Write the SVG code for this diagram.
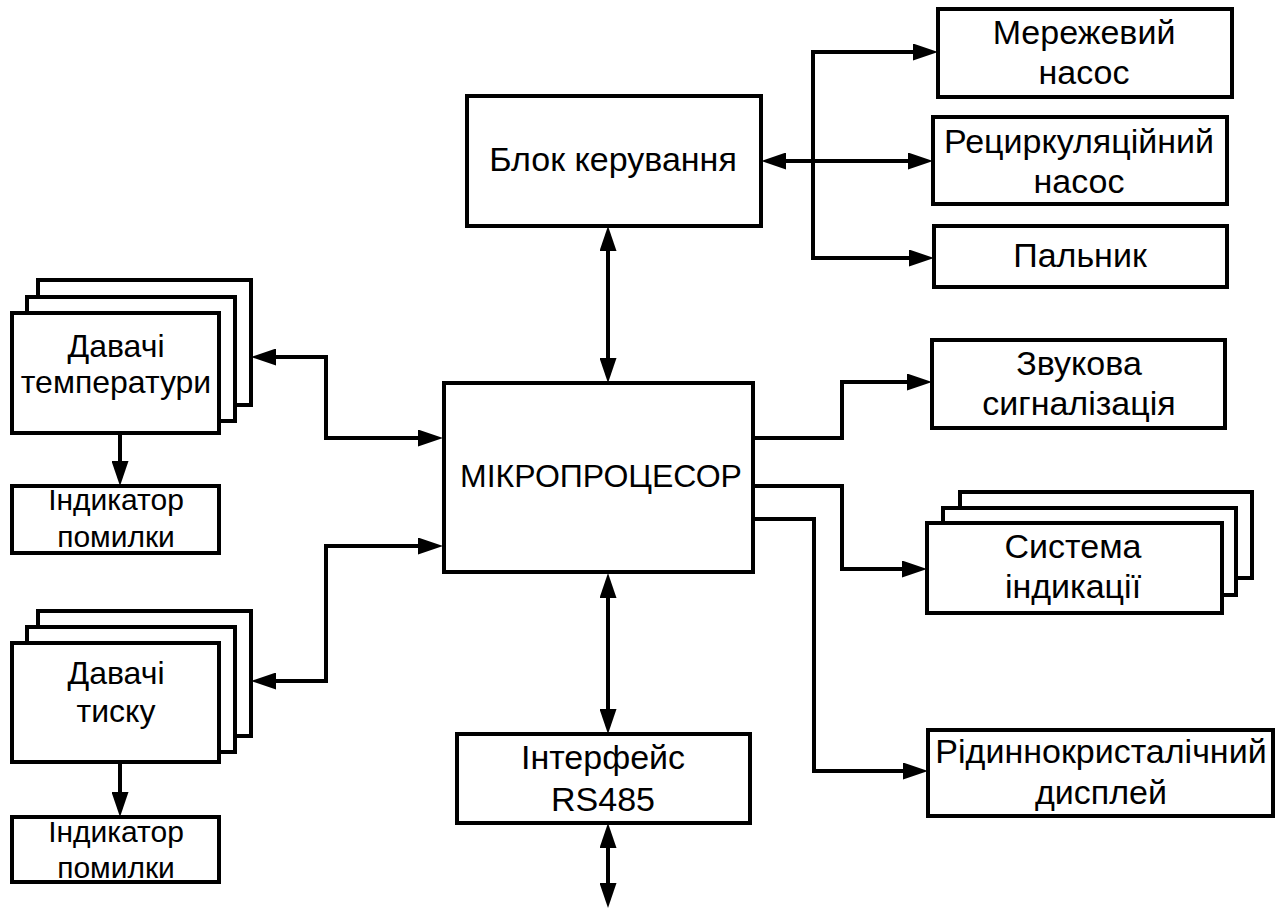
<svg xmlns="http://www.w3.org/2000/svg" width="1285" height="910" viewBox="0 0 1285 910">
<style>
.box{fill:#fff;stroke:#000;stroke-width:4}
.t{font-family:"Liberation Sans",Arial,sans-serif;font-size:32px;fill:#000;text-anchor:middle}
.b{font-size:34px}
.s{font-size:30px}
.c{fill:none;stroke:#000;stroke-width:4}
</style>
<defs>
<marker id="ah" markerUnits="userSpaceOnUse" markerWidth="25" markerHeight="17" refX="19" refY="8.5" orient="auto-start-reverse">
<path d="M0,0 L25,8.5 L0,17 z" fill="#000"/>
</marker>
</defs>
<rect width="1285" height="910" fill="#fff"/>

<g id="connectors">
<path class="c" d="M608,232 V377" marker-start="url(#ah)" marker-end="url(#ah)"/>
<path class="c" d="M767,161 H927" marker-start="url(#ah)" marker-end="url(#ah)"/>
<path class="c" d="M932,52 H813 V258 H928" marker-start="url(#ah)" marker-end="url(#ah)"/>
<path class="c" d="M257,357 H326 V438 H437" marker-start="url(#ah)" marker-end="url(#ah)"/>
<path class="c" d="M437,546 H326 V681 H257" marker-start="url(#ah)" marker-end="url(#ah)"/>
<path class="c" d="M120,433 V480" marker-end="url(#ah)"/>
<path class="c" d="M120,762 V811" marker-end="url(#ah)"/>
<path class="c" d="M753,438 H842 V382 H926" marker-end="url(#ah)"/>
<path class="c" d="M753,486 H842 V569 H921" marker-end="url(#ah)"/>
<path class="c" d="M753,519 H814 V771 H922" marker-end="url(#ah)"/>
<path class="c" d="M608,579 V728" marker-start="url(#ah)" marker-end="url(#ah)"/>
<path class="c" d="M608,829 V902" marker-start="url(#ah)" marker-end="url(#ah)"/>
</g>

<g id="blok">
<rect class="box" x="467" y="96" width="294" height="130"/>
<text class="t b" x="613" y="171">Блок керування</text>
</g>

<g id="merezhevyi">
<rect class="box" x="938" y="9" width="294" height="88"/>
<text class="t b" x="1084" y="44">Мережевий</text>
<text class="t b" x="1084" y="84">насос</text>
</g>

<g id="recyrk">
<rect class="box" x="933" y="117" width="294" height="87"/>
<text class="t b" x="1079" y="153">Рециркуляційний</text>
<text class="t b" x="1079" y="193">насос</text>
</g>

<g id="palnyk">
<rect class="box" x="934" y="226" width="293" height="61"/>
<text class="t b" x="1080" y="267">Пальник</text>
</g>

<g id="zvukova">
<rect class="box" x="932" y="340" width="293" height="88"/>
<text class="t b" x="1079" y="375">Звукова</text>
<text class="t b" x="1079" y="415">сигналізація</text>
</g>

<g id="systema">
<rect class="box" x="960" y="492" width="292" height="86"/>
<rect class="box" x="943" y="508" width="293" height="87"/>
<rect class="box" x="927" y="523" width="295" height="90"/>
<text class="t b" x="1073" y="558">Система</text>
<text class="t b" x="1073" y="598">індикації</text>
</g>

<g id="lcd">
<rect class="box" x="928" y="730" width="345" height="86"/>
<text class="t b" x="1101" y="763">Рідиннокристалічний</text>
<text class="t b" x="1101" y="804">дисплей</text>
</g>

<g id="mcu">
<rect class="box" x="444" y="383" width="309" height="189"/>
<text class="t" x="601" y="487">МІКРОПРОЦЕСОР</text>
</g>

<g id="rs485">
<rect class="box" x="457" y="734" width="293" height="89"/>
<text class="t b" x="603" y="769">Інтерфейс</text>
<text class="t b" x="603" y="811">RS485</text>
</g>

<g id="temp">
<rect class="box" x="38" y="280" width="213" height="125"/>
<rect class="box" x="27" y="297" width="208" height="124"/>
<rect class="box" x="12" y="313" width="207" height="120"/>
<text class="t" x="116" y="357">Давачі</text>
<text class="t" x="116" y="393">температури</text>
</g>

<g id="ind1">
<rect class="box" x="12" y="486" width="207" height="67"/>
<text class="t s" x="116" y="510">Індикатор</text>
<text class="t s" x="116" y="547">помилки</text>
</g>

<g id="tysk">
<rect class="box" x="38" y="611" width="213" height="125"/>
<rect class="box" x="27" y="627" width="208" height="125"/>
<rect class="box" x="12" y="643" width="207" height="119"/>
<text class="t" x="116" y="684">Давачі</text>
<text class="t" x="116" y="722">тиску</text>
</g>

<g id="ind2">
<rect class="box" x="12" y="817" width="207" height="65"/>
<text class="t s" x="116" y="842">Індикатор</text>
<text class="t s" x="116" y="878">помилки</text>
</g>
</svg>
